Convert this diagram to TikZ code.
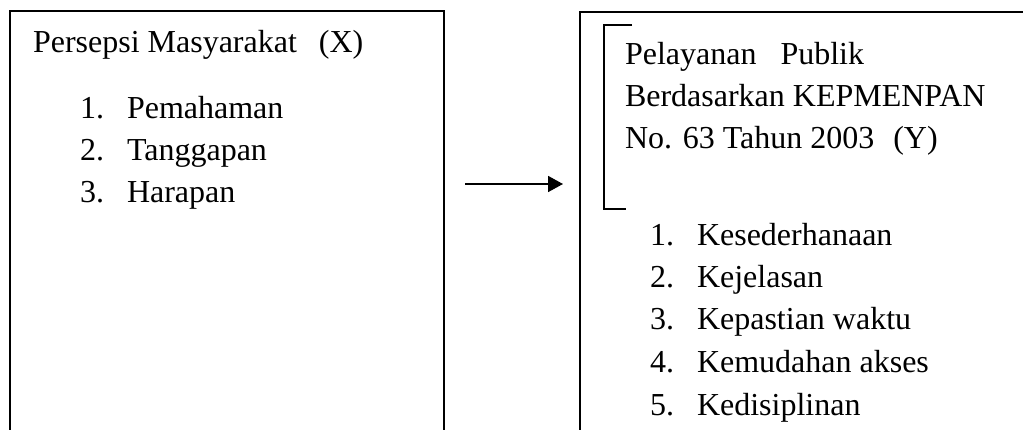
\documentclass[tikz,border=0pt]{standalone}
\usepackage{fontspec}
\setmainfont{Liberation Serif}
\usetikzlibrary{arrows.meta}
\begin{document}
\begin{tikzpicture}[x=1pt,y=-1pt,
  txt/.style={anchor=base west,inner sep=0pt,outer sep=0pt,font=\fontsize{32}{42}\selectfont},
  frame/.style={line width=1.8pt,draw=black},
  conn/.style={line width=1.8pt,-{Triangle[length=15pt,width=16pt]}}]
\useasboundingbox (0,0) rectangle (1023,430);
\begin{scope}
\clip (0,0) rectangle (1023,430);
% boxes (open at the bottom of the picture)
\draw[frame] (10,445) -- (10,11) -- (444,11) -- (444,445);
\draw[frame] (580,445) -- (580,12) -- (1040,12);
% bracket
\draw[frame] (632,25) -- (604,25) -- (604,209) -- (626,209);
\end{scope}
% left texts
\node[txt] (tx) at (33,53) {Persepsi Masyarakat\hspace{22pt}(X)};
\node[txt] (n1) at (80,119) {1.};
\node[txt] (l1) at (127,119) {Pemahaman};
\node[txt] (n2) at (80,161) {2.};
\node[txt] (l2) at (127,161) {Tanggapan};
\node[txt] (n3) at (80,203) {3.};
\node[txt] (l3) at (127,203) {Harapan};
% right texts
\node[txt] (ty1) at (625,65) {Pelayanan\hspace{24pt}Publik};
\node[txt] (ty2) at (625,107) {Berdasarkan KEPMENPAN};
\node[txt] (ty3) at (625,149) {No. 63 Tahun 2003\hspace{19pt}(Y)};
\node[txt] (m1) at (650,246) {1.};
\node[txt] (r1) at (697,246) {Kesederhanaan};
\node[txt] (m2) at (650,288) {2.};
\node[txt] (r2) at (697,288) {Kejelasan};
\node[txt] (m3) at (650,330) {3.};
\node[txt] (r3) at (697,330) {Kepastian waktu};
\node[txt] (m4) at (650,373) {4.};
\node[txt] (r4) at (697,373) {Kemudahan akses};
\node[txt] (m5) at (650,415) {5.};
\node[txt] (r5) at (697,415) {Kedisiplinan};
% arrow
\coordinate (a0) at (465,184);
\coordinate (a1) at (563,184);
\draw[conn] (a0) -- (a1);
\end{tikzpicture}
\end{document}
